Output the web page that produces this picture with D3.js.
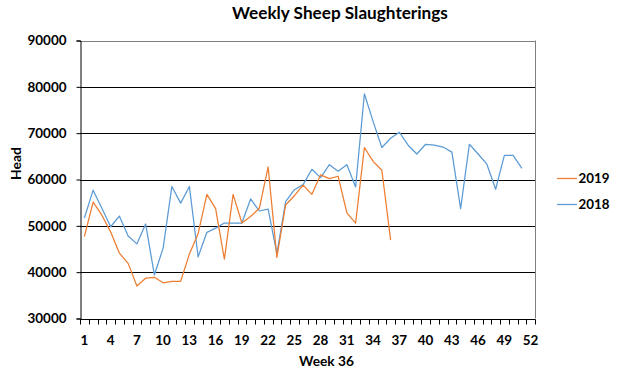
<!DOCTYPE html>
<html>
<head>
<meta charset="utf-8">
<script src="https://cdn.jsdelivr.net/npm/d3@7"></script>
<style>
  html, body { margin: 0; padding: 0; background: #fff; }
  svg { display: block; font-family: Lato, "Open Sans", sans-serif; }
</style>
</head>
<body>
<svg id="chart" width="620" height="382"></svg>
<script>
const weeks = d3.range(1, 53);
const xTickLabels = [1, 4, 7, 10, 13, 16, 19, 22, 25, 28, 31, 34, 37, 40, 43, 46, 49, 52];
const yTicks = [30000, 40000, 50000, 60000, 70000, 80000, 90000];
const seriesNames = ["2019", "2018"];
const values2019 = [47700, 55100, 52300, 48700, 44100, 41900, 37000, 38700, 38900, 37700,
  38000, 38000, 43900, 48300, 56800, 53700, 42800, 56800, 50600, 52000,
  53800, 62700, 43200, 54500, 56500, 58800, 56800, 61000, 60200, 60700,
  52800, 50600, 66900, 63900, 62000, 46900];
const values2018 = [51700, 57700, 53800, 49800, 52100, 47800, 46100, 50400, 39400, 45200,
  58500, 54900, 58500, 43300, 48600, 49500, 50600, 50600, 50600, 55800,
  53200, 53600, 44000, 55200, 57800, 58900, 62200, 60400, 63200, 61800,
  63200, 58400, 78500, 72500, 66900, 68900, 70200, 67400, 65500, 67600,
  67400, 67000, 65900, 53700, 67600, 65500, 63300, 57900, 65200, 65200, 62400];
const colors = { "2019": "#ED7D31", "2018": "#5B9BD5" };

const svg = d3.select("#chart");
const mLeft = 80, mRight = 535, mTop = 40.5, mBottom = 318.5;

const x = d3.scaleBand().domain(weeks).range([mLeft, mRight]).padding(0);
const y = d3.scaleLinear().domain([30000, 90000]).range([mBottom, mTop]);
const cx = d => x(d) + x.bandwidth() / 2;

// font size that makes a sample text reach a target width
function fitSize(text, target, base) {
  const t = svg.append("text").attr("font-size", base).attr("font-weight", "bold").text(text);
  const w = t.node().getComputedTextLength();
  t.remove();
  return w > 0 ? base * target / w : base;
}
const labelSize = fitSize("90000", 39, 13);
const titleSize = fitSize("Weekly Sheep Slaughterings", 216, 16);

// gridlines
svg.append("g").selectAll("line")
  .data(yTicks.filter(t => t > 30000 && t < 90000))
  .join("line")
  .attr("x1", mLeft).attr("x2", mRight)
  .attr("y1", d => Math.round(y(d)) + 0.5).attr("y2", d => Math.round(y(d)) + 0.5)
  .attr("stroke", "#000").attr("stroke-width", 1);

// plot border top/right (gray)
svg.append("line").attr("x1", mLeft).attr("x2", mRight + 0.5)
  .attr("y1", Math.round(y(90000)) + 0.5).attr("y2", Math.round(y(90000)) + 0.5)
  .attr("stroke", "#7f7f7f");
svg.append("line").attr("x1", mRight + 0.5).attr("x2", mRight + 0.5)
  .attr("y1", y(90000)).attr("y2", y(30000))
  .attr("stroke", "#7f7f7f");

// y axis
const yAxis = d3.axisLeft(y).tickValues(yTicks).tickSize(4).tickPadding(10).tickFormat(d3.format("d"));
const gy = svg.append("g").attr("transform", `translate(${mLeft + 0.5},0)`).call(yAxis);
gy.select(".domain").attr("stroke", "#000");
gy.selectAll(".tick line").attr("stroke", "#000");
gy.selectAll(".tick text").attr("font-size", labelSize).attr("font-weight", "bold").attr("fill", "#000")
  .attr("font-family", "Lato, sans-serif");

// x axis: ticks at category boundaries
const gx = svg.append("g").attr("transform", `translate(0,${Math.round(mBottom) + 0.5})`);
gx.append("line").attr("x1", mLeft).attr("x2", mRight + 0.5).attr("stroke", "#000");
gx.selectAll("line.tk").data(d3.range(0, 53)).join("line").attr("class", "tk")
  .attr("x1", i => Math.round(mLeft + i * x.bandwidth()) + 0.5)
  .attr("x2", i => Math.round(mLeft + i * x.bandwidth()) + 0.5)
  .attr("y1", 0).attr("y2", 5).attr("stroke", "#000");
gx.selectAll("text").data(xTickLabels).join("text")
  .attr("x", d => cx(d)).attr("y", 25.5)
  .attr("text-anchor", "middle")
  .attr("font-size", labelSize).attr("font-weight", "bold").attr("fill", "#000")
  .text(d => d);

// lines
const line = d3.line().x((d, i) => cx(weeks[i])).y(d => y(d));
[["2018", values2018], ["2019", values2019]].forEach(([name, vals]) => {
  svg.append("path").datum(vals)
    .attr("d", line)
    .attr("fill", "none")
    .attr("stroke", colors[name])
    .attr("stroke-width", 1.25)
    .attr("stroke-linejoin", "round");
});

// title
svg.append("text").attr("x", 340).attr("y", 18.5).attr("text-anchor", "middle")
  .attr("font-size", titleSize).attr("font-weight", "bold").attr("fill", "#000")
  .text("Weekly Sheep Slaughterings");

// axis titles
svg.append("text").attr("x", 326.5).attr("y", 366).attr("text-anchor", "middle")
  .attr("font-size", fitSize("Week 36", 55, 13)).attr("font-weight", "bold").attr("fill", "#000")
  .text("Week 36");
svg.append("text").attr("transform", "translate(21,163.5) rotate(-90)")
  .attr("text-anchor", "middle")
  .attr("font-size", fitSize("Head", 33, 13)).attr("font-weight", "bold").attr("fill", "#000")
  .text("Head");

// legend
const legY = { "2019": 178.5, "2018": 204.5 };
const legSize = fitSize("2019", 31, 13);
seriesNames.forEach(name => {
  svg.append("line").attr("x1", 557).attr("x2", 577).attr("y1", legY[name]).attr("y2", legY[name])
    .attr("stroke", colors[name]).attr("stroke-width", 1.25);
  svg.append("text").attr("x", 578.5).attr("y", legY[name] + 4.7)
    .attr("font-size", legSize).attr("font-weight", "bold").attr("fill", "#000")
    .text(name);
});
</script>
</body>
</html>
